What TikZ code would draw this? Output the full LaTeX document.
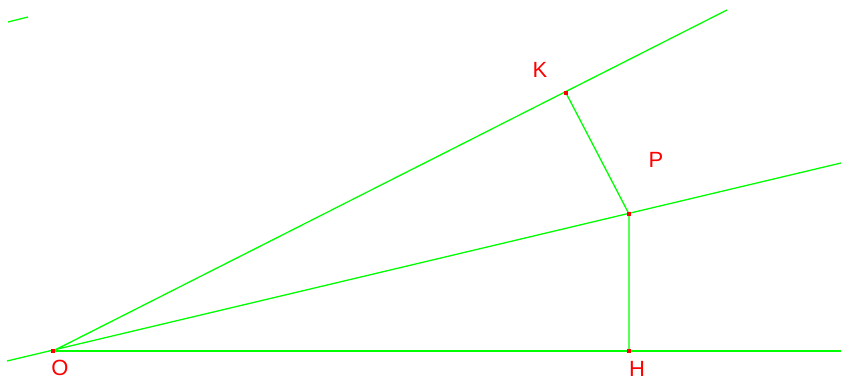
\documentclass[tikz,border=0pt]{standalone}
\usepackage{fontspec}
\setmainfont{Liberation Sans}
\tikzset{
	ray/.style={draw=green, line width=1.3pt},
	dot/.style={fill=red, inner sep=0pt, minimum size=4pt, rectangle},
	lbl/.style={red, font=\fontsize{22}{26}\selectfont}
}

\begin{document}
\begin{tikzpicture}[x=1pt, y=-1pt]
	\useasboundingbox (0, 0) rectangle (841, 380);
	\coordinate (O) at (53, 351);
	\coordinate (H) at (629, 351);
	\coordinate (P) at (629, 214);
	\coordinate (K) at (566, 93);
	\coordinate (xend) at (841, 351);
	\coordinate (bisl) at (7, 361);
	\coordinate (bisr) at (841, 163);
	\coordinate (kend) at (727, 10);
	\coordinate (s1) at (8, 22);
	\coordinate (s2) at (28, 17);
	\draw [ray, line width=1.6pt] (O) -- (xend);
	\draw [ray] (bisl) -- (bisr);
	\draw [ray] (O) -- (kend);
	\draw [ray] (K) -- (P) -- (H);
	\draw [ray] (s1) -- (s2);
	\foreach \p in {O, H, P, K} {
		\node [dot] (d\p) at (\p) {};
	}
	\node [lbl] (lO) at (60, 368) {O};
	\node [lbl] (lH) at (637, 369) {H};
	\node [lbl] (lP) at (656, 160) {P};
	\node [lbl] (lK) at (540, 70) {K};
\end{tikzpicture}
\end{document}
